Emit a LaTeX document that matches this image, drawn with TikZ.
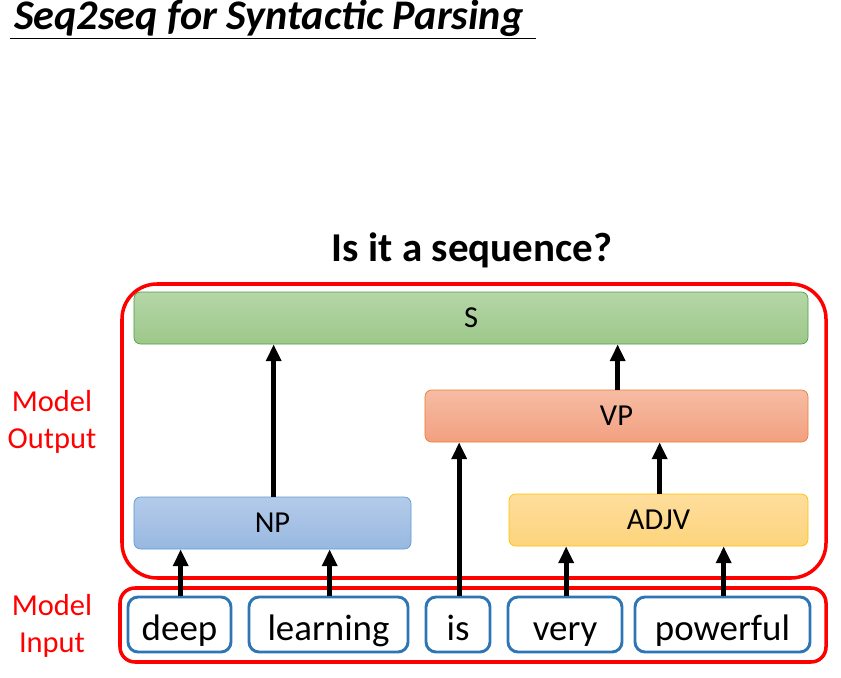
\documentclass[tikz,border=0pt]{standalone}
\usepackage{fontspec}
\setmainfont{Carlito}
\usetikzlibrary{arrows.meta, positioning}

\definecolor{groupred}{HTML}{FF0000}
\definecolor{wordblue}{HTML}{2E75B6}
\tikzset{uparrow/.style = {line width=4pt, -{Triangle[width=0.44cm, length=0.5cm]}}}
\tikzset{phrase/.style = {draw, line width=0.6pt, rounded corners=0.2cm, minimum height=1.56cm,
    font=\fontsize{26}{30}\selectfont}}
\tikzset{word/.style = {draw=wordblue, line width=2.5pt, rounded corners=0.3cm, fill=white,
    minimum height=1.65cm, text height=32pt, text depth=5pt, font=\fontsize{31.5}{36}\selectfont}}
\tikzset{group/.style = {draw=groupred, line width=3pt}}
\tikzset{grouplabel/.style = {text=groupred, align=center, font=\fontsize{26}{31.5}\selectfont}}

\begin{document}
\begin{tikzpicture}[x=0.03cm, y=-0.03cm]
    \useasboundingbox (0,0) rectangle (841,678);

    % title and question
    \node       (title) [anchor=base west] at (10,30)
        {\fontsize{36}{40}\selectfont\bfseries\itshape Seq2seq for Syntactic Parsing};
    \draw[line width=1pt] (10,38.5) -- (536,38.5);
    \node       (question) at (472,250) {\fontsize{35}{40}\selectfont\bfseries Is it a sequence?};

    % groups
    \draw[group, rounded corners=1.05cm] (122,284) rectangle (826,578);
    \draw[group, rounded corners=0.45cm] (120,588) rectangle (826,662);
    \node       (out) [grouplabel] at (52,422) {Model\\Output};
    \node       (in)  [grouplabel] at (52,626) {Model\\Input};

    % phrases
    \node       (S)    [phrase, draw=green!45!black!70, top color={rgb,255:red,181;green,214;blue,167},
        bottom color={rgb,255:red,157;green,200;blue,138}, minimum width=20.22cm] at (471,318) {S};
    \node       (VP)   [phrase, draw={rgb,255:red,237;green,125;blue,49}, top color={rgb,255:red,246;green,188;blue,164},
        bottom color={rgb,255:red,242;green,160;blue,128}, minimum width=11.49cm] at (616.5,416) {VP};
    \node       (NP)   [phrase, draw={rgb,255:red,91;green,155;blue,213}, top color={rgb,255:red,180;green,203;blue,234},
        bottom color={rgb,255:red,152;green,184;blue,224}, minimum width=8.31cm] at (272.5,523) {NP};
    \node       (ADJV) [phrase, draw={rgb,255:red,255;green,192;blue,0}, top color={rgb,255:red,254;green,222;blue,156},
        bottom color={rgb,255:red,253;green,212;blue,124}, minimum width=8.97cm] at (658.5,520) {ADJV};

    % words
    \foreach \Word/\X/\W in {deep/179.5/3.09, learning/328.5/4.77, is/458/1.92,
                             very/565/3.42, powerful/722.5/5.25}
        \node   (\Word) [word, minimum width=\W cm] at (\X,624.5) {\Word};

    \foreach \Source/\Target in {NP/S, VP/S, is/VP, ADJV/VP,
                                 deep/NP, learning/NP, very/ADJV, powerful/ADJV}
        \draw[uparrow] ([xshift=1pt]\Source.north) -- ([xshift=1pt]\Source.north |- \Target.south);
\end{tikzpicture}
\end{document}
